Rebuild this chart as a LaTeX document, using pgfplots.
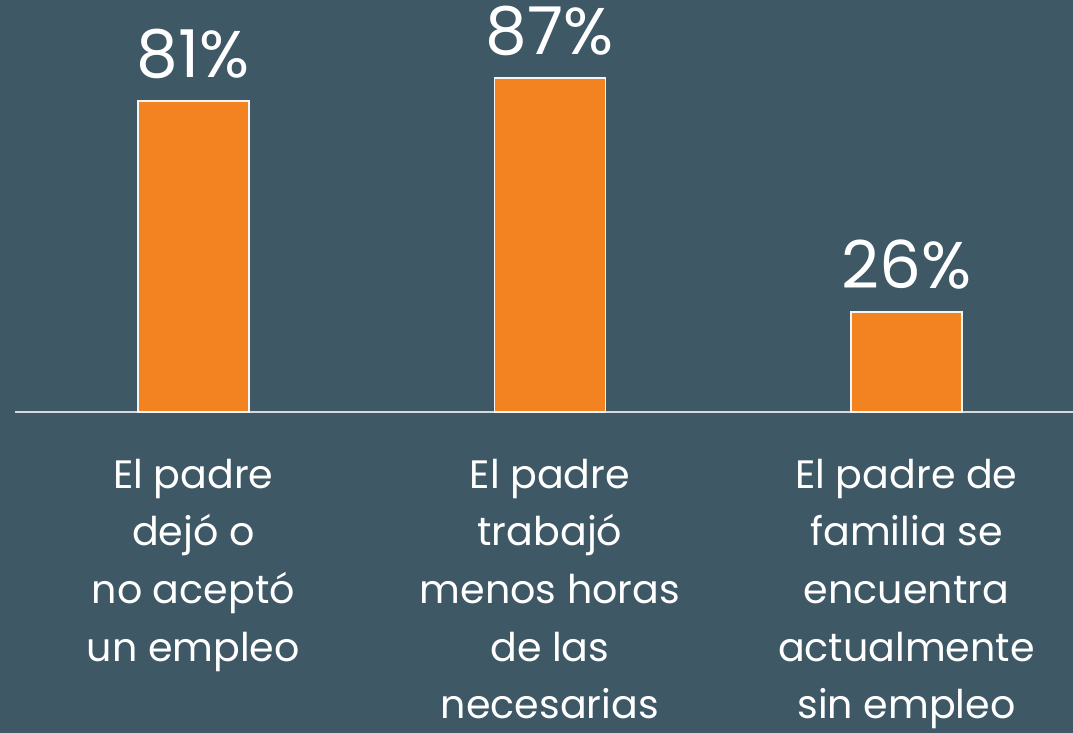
\documentclass[border=0pt]{standalone}
\usepackage{pgfplots}
\pgfplotsset{compat=1.18}
\usepackage{fontspec}
\setmainfont{Poppins}
\definecolor{bgslate}{RGB}{62,88,102}
\definecolor{barorange}{RGB}{243,130,33}
\definecolor{baseline}{RGB}{215,218,220}

\begin{document}
\begin{tikzpicture}
  % 1 px of the reference = 0.5pt
  \fill[bgslate] (0,0) rectangle (536.5pt,366.5pt);
  \begin{axis}[
      at={(7.5pt,160.5pt)}, anchor=south west,
      scale only axis,
      width=529pt, height=192pt,
      ybar, bar width=55.5pt,
      xmin=-0.5, xmax=2.467,
      ymin=0, ymax=100,
      axis x line*=bottom, hide y axis,
      axis line style={draw=baseline, line width=1pt, -},
      xtick=data, major tick length=0pt,
      xticklabels={
        {El padre\\dejó o\\no aceptó\\un empleo},
        {El padre\\trabajó\\menos horas\\de las\\necesarias},
        {El padre de\\familia se\\encuentra\\actualmente\\sin empleo}},
      xticklabel style={align=center, text=white, font=\fontsize{19.8}{28.8}\selectfont, yshift=-20pt},
      /pgf/number format/assume math mode=true,
      nodes near coords={\pgfmathprintnumber{\pgfplotspointmeta}\%},
      nodes near coords style={text=white, font=\fontsize{33}{35}\selectfont, yshift=7.5pt},
      clip=false,
    ]
    \addplot[fill=barorange, draw=white!92!gray, line width=0.8pt] coordinates {
      (0,81) (1,87) (2,26)
    };
  \end{axis}
  \pgfresetboundingbox
  \path[use as bounding box] (0,0) rectangle (536.5pt,366.5pt);
\end{tikzpicture}
\end{document}
